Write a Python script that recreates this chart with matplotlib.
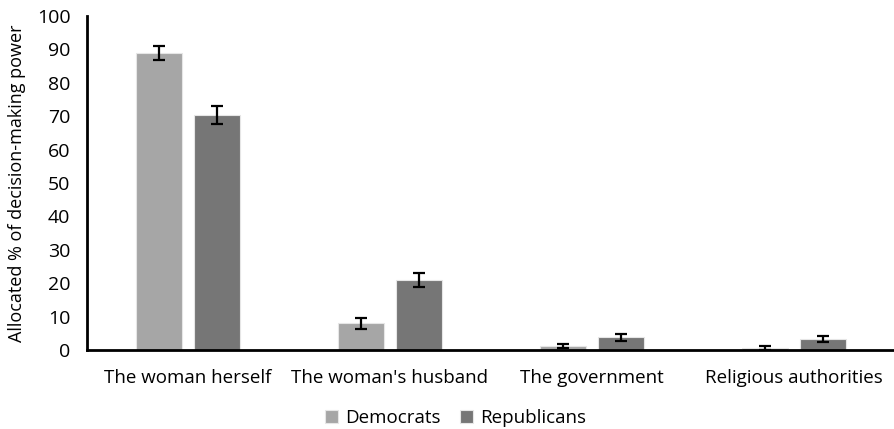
import matplotlib
matplotlib.use("Agg")
import matplotlib.pyplot as plt
import numpy as np

categories = ["The woman herself", "The woman's husband", "The government", "Religious authorities"]
democrats = [89.0, 8.0, 1.1, 0.6]
democrats_err = [2.1, 1.6, 0.6, 0.5]
republicans = [70.4, 21.0, 3.8, 3.3]
republicans_err = [2.7, 2.0, 1.0, 1.0]
y_ticks = [0, 10, 20, 30, 40, 50, 60, 70, 80, 90, 100]

plt.rcParams['font.family'] = ['Open Sans', 'DejaVu Sans']

fig = plt.figure(figsize=(8.95, 4.29), dpi=100)
ax = fig.add_axes([87/895, 1-350/429, 1-87/895, (350-16)/429])

x = np.arange(len(categories))
w = 0.228
off = 0.144
err_kw = dict(ecolor='black', elinewidth=1.6, capsize=4.5, capthick=1.6)
ax.bar(x - off, democrats, w, yerr=democrats_err, color='#A6A6A6',
       edgecolor='#E6E6E6', linewidth=0.8, label='Democrats', error_kw=err_kw, zorder=2)
ax.bar(x + off, republicans, w, yerr=republicans_err, color='#767676',
       edgecolor='#E6E6E6', linewidth=0.8, label='Republicans', error_kw=err_kw, zorder=2)

ax.set_xlim(-0.5, 3.5)
ax.set_ylim(0, 100)
ax.set_yticks(y_ticks)
ax.set_xticks(x)
ax.set_xticklabels(categories)
ax.tick_params(axis='x', length=0, labelsize=13.5, colors='black', pad=14)
ax.tick_params(axis='y', length=0, labelsize=14, colors='black', pad=12)
for s in ['top', 'right']:
    ax.spines[s].set_visible(False)
for s in ['left', 'bottom']:
    ax.spines[s].set_linewidth(2)
    ax.spines[s].set_color('black')
ax.set_ylabel("Allocated % of decision-making power", fontsize=13, labelpad=8)

fig.legend(loc='center', bbox_to_anchor=(0.5 + 8/895, 1 - 418/429), ncol=2, frameon=False,
           fontsize=13.5, handlelength=0.7, handleheight=0.7, columnspacing=1.0, handletextpad=0.4)

fig.savefig("out.png", dpi=100)
